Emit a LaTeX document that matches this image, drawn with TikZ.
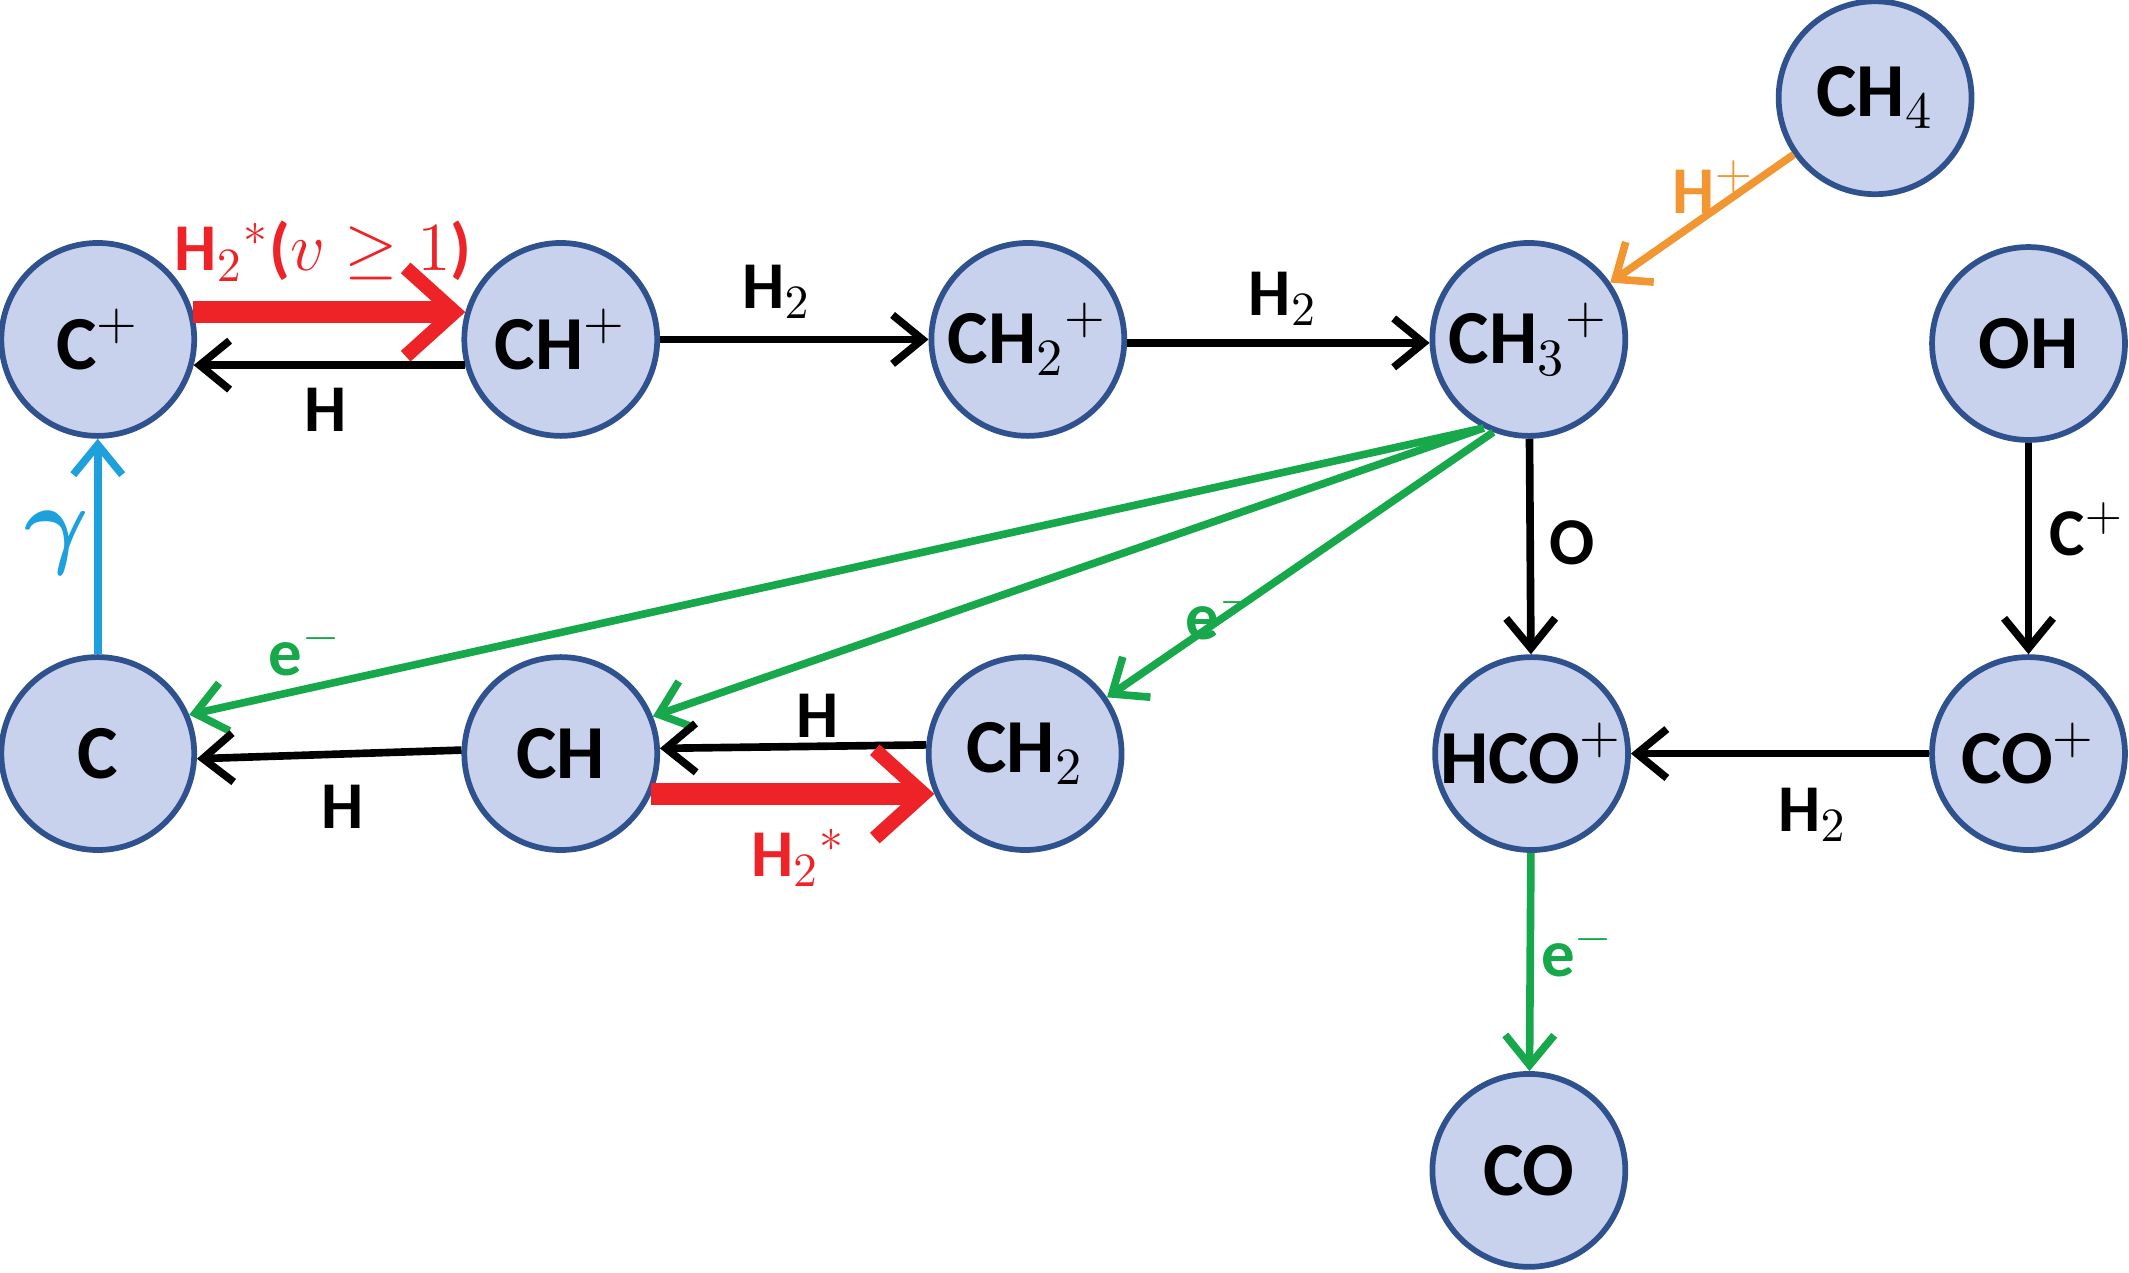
\documentclass[tikz,border=0pt]{standalone}
\usepackage{amsmath,amssymb}
\usepackage{fontspec}
\setmainfont{Carlito}
\usetikzlibrary{arrows.meta}
\definecolor{nfill}{RGB}{200,210,236}
\definecolor{nline}{RGB}{47,82,143}
\definecolor{gr}{RGB}{22,168,74}
\definecolor{rd}{RGB}{237,35,40}
\definecolor{og}{RGB}{242,150,50}
\definecolor{bl}{RGB}{30,160,220}
\begin{document}
\begin{tikzpicture}[x=0.01cm,y=-0.01cm,
  sp/.style={circle,draw=nline,fill=nfill,line width=1.2pt,minimum size=1.42cm,inner sep=0pt,font=\fontsize{16}{16}\bfseries},
  ar/.style={line width=1.6pt,-{Straight Barb[length=2.2mm,width=3.6mm]}},
  big/.style={line width=4.5pt,rd,-{Straight Barb[length=3.6mm,width=6.5mm,line width=3pt]}},
  lb/.style={font=\fontsize{14}{14}\bfseries}]
\useasboundingbox (0,0) rectangle (1568,937);
\node[sp] (cp) at (72,250) {C$^{+}$};
\node[sp] (chp) at (413,250) {CH$^{+}$};
\node[sp] (ch2p) at (757,250) {CH$_2$$^{+}$};
\node[sp] (ch3p) at (1126,250) {CH$_3$$^{+}$};
\node[sp] (ch4) at (1381,72) {CH$_4$};
\node[sp] (oh) at (1494,253) {OH};
\node[sp] (c) at (72,555) {C};
\node[sp] (ch) at (413,555) {CH};
\node[sp] (ch2) at (755,555) {CH$_2$};
\node[sp] (hco) at (1128,555) {HCO$^{+}$};
\node[sp] (cop) at (1494,555) {CO$^{+}$};
\node[sp] (co) at (1126,862) {CO};

\draw[big] (cp.16) -- (chp.164);
\node[lb,rd] at (238,185) {H$_2$$^{*}$($v\geq1$)};
\draw[ar] (chp.195) -- (cp.-15);
\node[lb] at (240,302) {H};
\draw[ar] (chp) -- (ch2p);
\node[lb] at (572,215) {H$_2$};
\draw[ar] (ch2p.-2) -- (ch3p.182);
\node[lb] at (945,220) {H$_2$};
\draw[ar,og] (ch4) -- (ch3p);
\node[lb,og] at (1262,138) {H$^{+}$};
\draw[ar] (oh) -- (cop);
\node[lb] at (1537,390) {C$^{+}$};
\draw[ar] (cop) -- (hco);
\node[lb] at (1335,600) {H$_2$};
\draw[ar] (ch3p) -- (hco);
\node[lb] at (1158,400) {O};
\draw[ar,gr] (hco) -- (co);
\node[lb,gr] at (1162,700) {e$^{-}$};
\draw[ar,gr] (ch3p.-117) -- (c.23);
\node[lb,gr] at (225,478) {e$^{-}$};
\draw[ar,gr] (ch3p.-117) -- (ch.22);
\draw[ar,gr] (ch3p.-111) -- (ch2);
\node[lb,gr] at (900,452) {e$^{-}$};
\draw[ar,bl] (c) -- (cp);
\node[bl,font=\fontsize{20}{20}\selectfont] at (42,400) {$\boldsymbol{\gamma}$};
\draw[ar] (ch.178) -- (c.-3);
\node[lb] at (252,594) {H};
\draw[ar] (ch2.175) -- (ch.3);
\node[lb] at (602,527) {H};
\draw[big] (ch.-24) -- (ch2.204);
\node[lb,rd] at (588,632) {H$_2$$^{*}$};
\end{tikzpicture}
\end{document}
